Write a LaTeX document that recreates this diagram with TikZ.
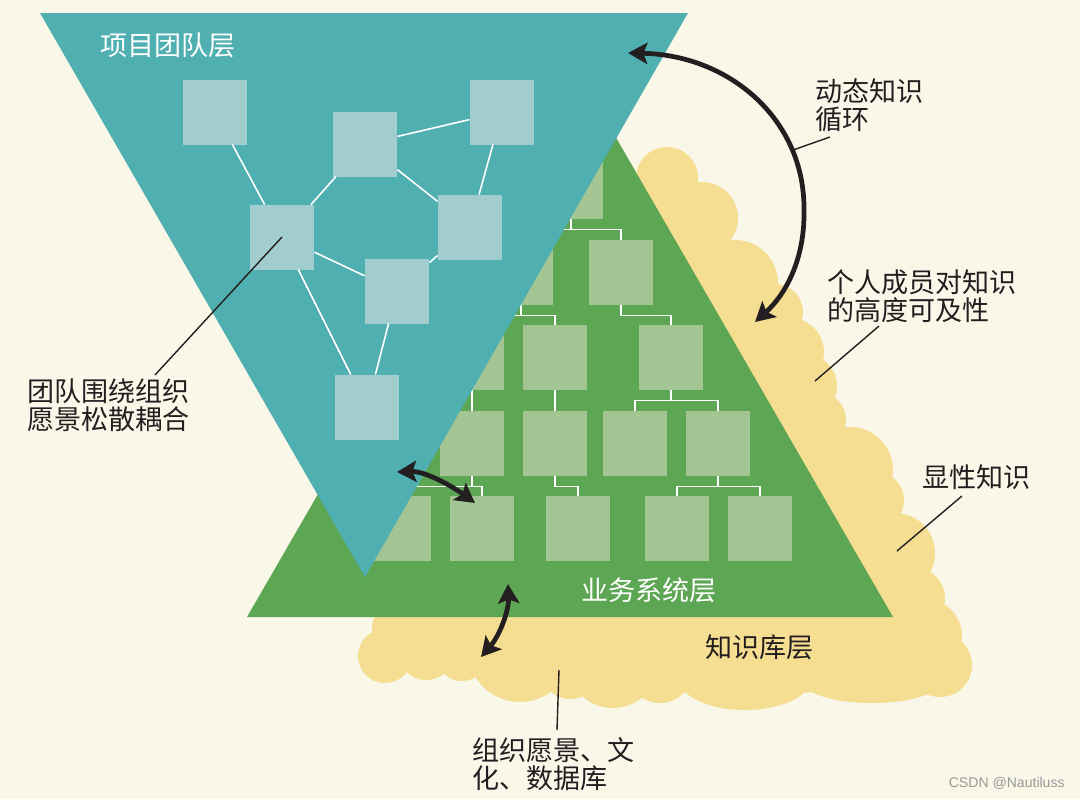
\documentclass[tikz,border=0pt]{standalone}
\usepackage{fontspec}
\setmainfont{Noto Sans CJK SC}
\newfontfamily\wmfont{Liberation Sans}
\usetikzlibrary{arrows.meta}
\definecolor{bgcream}{HTML}{F9F7E8}
\definecolor{cloudy}{HTML}{F5DE91}
\definecolor{layergreen}{HTML}{5DA653}
\definecolor{boxgreen}{HTML}{A3C594}
\definecolor{layerteal}{HTML}{50AFB0}
\definecolor{boxteal}{HTML}{A1CDCE}
\definecolor{inkdark}{HTML}{231F20}
\begin{document}
\begin{tikzpicture}[x=0.02cm,y=-0.02cm,
 gbox/.style={fill=boxgreen,minimum size=1.3cm,inner sep=0pt,outer sep=0pt},
 tbox/.style={fill=boxteal,minimum size=1.3cm,inner sep=0pt,outer sep=0pt},
 tree/.style={white,line width=1.1pt},
 net/.style={white,line width=0.9pt},
 lead/.style={inkdark,line width=0.8pt},
 arr/.style={inkdark,line width=2.7pt,>={Stealth[length=11pt,width=12pt,inset=2.2pt]},<->},
 lbl/.style={inkdark,font=\fontsize{15.4pt}{15.9pt}\selectfont,inner sep=0pt,align=left},
 wlbl/.style={white,font=\fontsize{15.4pt}{15.9pt}\selectfont,inner sep=0pt}]
 \fill[bgcream] (0,0) rectangle (1080,799);
 \fill[cloudy] (650,175) -- (702,218) -- (735,283) -- (790,352) -- (850,470) -- (895,553) -- (925,636) -- (940,665) -- (872,690) -- (745,695) -- (613,690) -- (520,680) -- (426,655) -- (385,656) -- (380,617) -- cycle;
 \foreach \cx/\cy/\cr in {667/178/31, 702/218/36, 735/283/43, 775/312/28, 790/352/34, 805/386/32, 818/420/28, 850/470/43, 876/500/28, 895/553/40, 915/598/30, 925/636/37, 940/665/32, 660/670/33, 613/662/46, 570/670/29, 520/650/52, 462/655/26, 426/652/28, 385/656/27, 400/628/28}
  \fill[cloudy] (\cx,\cy) circle [radius=\cr];
 \fill[cloudy] (872,683) ellipse [x radius=67,y radius=20];
 \fill[cloudy] (745,680) ellipse [x radius=65,y radius=30];
 \fill[layergreen] (247,617) -- (893,617) -- (570,58) -- cycle;
 \foreach \n/\gx/\gy in {g11/571/186, g21/521/272, g22/621/272, g31/472/357, g32/555/357, g33/671/357, g41/472/443, g42/555/443, g43/635/443, g44/718/443, g51/399/528, g52/482/528, g53/578/528, g54/677/528, g55/760/528}
  \node[gbox] (\n) at (\gx,\gy) {};
 \foreach \p/\c in {g11/g21, g11/g22, g21/g31, g21/g32, g22/g33, g31/g41, g32/g42, g33/g43, g33/g44, g41/g51, g41/g52, g42/g53, g44/g54, g44/g55}
  \draw[tree] (\p.south) -- ++(0,11) -| (\c.north);
 \fill[layerteal] (40,13) -- (688,13) -- (365,577) -- cycle;
 \foreach \n/\tx/\ty in {t1/215/112, t2/365/144, t3/502/112, t4/282/237, t5/470/227, t6/397/291, t7/367/407}
  \node[tbox] (\n) at (\tx,\ty) {};
 \foreach \a/\b in {t1/t4, t2/t3, t2/t4, t2/t5, t3/t5, t4/t6, t4/t7, t5/t6, t6/t7}
  \draw[net] (\a) -- (\b);
 \node[wlbl,anchor=west] (teamtitle) at (100,45) {项目团队层};
 \node[wlbl,anchor=west] (bizlbl) at (581,590) {业务系统层};
 \node[lbl,anchor=west] (kblbl) at (705,647) {知识库层};
 \node[lbl,anchor=north west] (cyclbl) at (815,78) {动态知识\\循环};
 \node[lbl,anchor=north west] (acclbl) at (827,269) {个人成员对知识\\的高度可及性};
 \node[lbl,anchor=west] (explbl) at (922,477) {显性知识};
 \node[lbl,anchor=north west] (teamlbl) at (27,378) {团队围绕组织\\愿景松散耦合};
 \node[lbl,anchor=north west] (vislbl) at (472,737) {组织愿景、文\\化、数据库};
 \node[black!40,font=\wmfont\fontsize{8pt}{9pt}\selectfont,anchor=east,inner sep=0pt] (wmark) at (1065,783) {CSDN @Nautiluss};
 \coordinate (loopa) at (628,53);
 \coordinate (loopb) at (755,322);
 \coordinate (linka) at (397,472);
 \coordinate (linkb) at (475,503);
 \coordinate (basea) at (508,584);
 \coordinate (baseb) at (481,657);
 \draw[arr] (loopa) .. controls (730,55) and (805,120) .. (804,210) .. controls (805,260) and (785,295) .. (loopb);
 \draw[arr] (linka) .. controls (425,471) and (452,486) .. (linkb);
 \draw[arr] (basea) .. controls (509,610) and (500,635) .. (baseb);
 \coordinate (teamtip) at (155,375);
 \coordinate (cyctip) at (830,137);
 \coordinate (cycend) at (793,150);
 \coordinate (acctip) at (879,326);
 \coordinate (accend) at (815,381);
 \coordinate (exptip) at (962,496);
 \coordinate (expend) at (897,551);
 \coordinate (vistip) at (557,730);
 \coordinate (visend) at (559,670);
 \draw[lead] (teamtip) -- (t4.center);
 \draw[lead] (cyctip) -- (cycend);
 \draw[lead] (acctip) -- (accend);
 \draw[lead] (exptip) -- (expend);
 \draw[lead] (vistip) -- (visend);
\end{tikzpicture}
\end{document}
